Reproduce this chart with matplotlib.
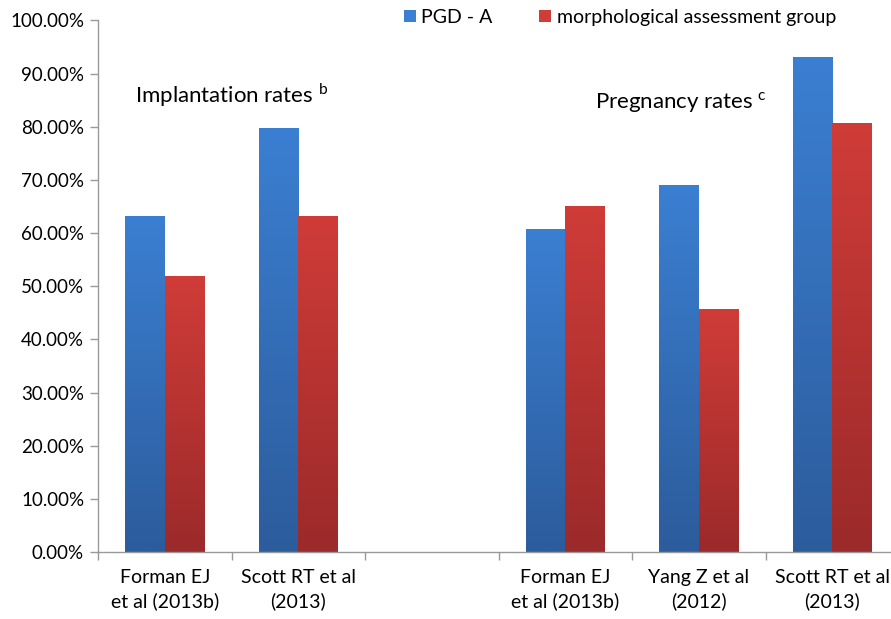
import numpy as np
import matplotlib.pyplot as plt
import matplotlib.colors as mcolors
from matplotlib.patches import Patch

plt.rcParams['font.family'] = ['Lato', 'DejaVu Sans']

categories = ["Forman EJ\net al (2013b)", "Scott RT et al\n(2013)", "",
              "Forman EJ\net al (2013b)", "Yang Z et al\n(2012)", "Scott RT et al\n(2013)"]
pgd_a = [63.2, 79.8, np.nan, 60.7, 69.1, 93.2]
morph = [51.9, 63.2, np.nan, 65.1, 45.8, 80.7]
series_names = ["PGD - A", "morphological assessment group"]

BLUE_TOP, BLUE_BOT = "#3b7fd2", "#2c5c9c"
RED_TOP, RED_BOT = "#d03c38", "#9b2a2a"

fig = plt.figure(figsize=(8.91, 6.19), dpi=100)
ax = fig.add_axes([0.110, 0.108, 0.899, 0.859])

x = np.arange(len(categories))
w = 0.295


def gradient_bars(bars, top, bot):
    cmap = mcolors.LinearSegmentedColormap.from_list("g", [bot, top])
    grad = np.linspace(0, 1, 256).reshape(-1, 1)
    for b in bars:
        h = b.get_height()
        if np.isnan(h) or h <= 0:
            continue
        x0 = b.get_x()
        im = ax.imshow(grad, cmap=cmap, aspect="auto", origin="lower",
                       extent=(x0, x0 + b.get_width(), 0, h), zorder=2)
        im.set_clip_path(b)
        b.set_alpha(0)


b1 = ax.bar(x - w / 2, pgd_a, w, color=BLUE_TOP, zorder=1)
b2 = ax.bar(x + w / 2, morph, w, color=RED_TOP, zorder=1)
gradient_bars(b1, BLUE_TOP, BLUE_BOT)
gradient_bars(b2, RED_TOP, RED_BOT)

ax.set_xlim(-0.5, 5.5)
ax.set_ylim(0, 100)
ax.set_yticks(np.arange(0, 101, 10))
ax.set_yticklabels(["%.2f%%" % v for v in np.arange(0, 101, 10)], fontsize=13.5)
ax.set_xticks(x)
ax.set_xticklabels(categories, fontsize=14, linespacing=1.45)
ax.set_xticks(np.arange(-0.5, 5.0, 1.0), minor=True)
ax.tick_params(axis="x", which="major", length=0, pad=12)
ax.tick_params(axis="x", which="minor", length=6, color="#999999", width=1)
ax.tick_params(axis="y", length=6, color="#999999", width=1, pad=4)

for s in ["top", "right"]:
    ax.spines[s].set_visible(False)
for s in ["left", "bottom"]:
    ax.spines[s].set_color("#999999")
    ax.spines[s].set_linewidth(1)

ax.text(0.50, 86.0, "Implantation rates $^{\\mathregular{b}}$", ha="center", va="center", fontsize=16)
ax.text(3.87, 84.6, "Pregnancy rates $^{\\mathregular{c}}$", ha="center", va="center", fontsize=16)

handles = [Patch(facecolor=BLUE_TOP), Patch(facecolor=RED_TOP)]
fig.legend(handles, series_names, loc="center", bbox_to_anchor=(0.696, 0.972), ncol=2,
           frameon=False, fontsize=14, handlelength=0.6, handleheight=0.6,
           handletextpad=0.3, columnspacing=2.4)

fig.savefig("out.png", dpi=100)
